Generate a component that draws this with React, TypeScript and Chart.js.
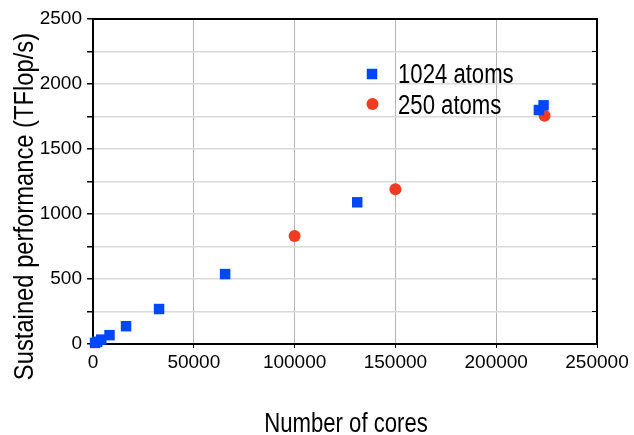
import React, { useEffect, useRef } from 'react';
import { Chart, registerables } from 'chart.js';

Chart.register(...registerables);

// ---- data ----
const cores1024 = [1024, 2048, 4096, 8192, 16384, 32768, 65536, 131072, 221184, 223500];
const perf1024 = [8.5, 17, 34, 68, 137, 269, 538, 1090, 1800, 1836];
const cores250 = [100000, 150000, 224000];
const perf250 = [831, 1190, 1756];
const seriesLabels = ['1024 atoms', '250 atoms'];
const xTickValues = [0, 50000, 100000, 150000, 200000, 250000];
const yTickValues = [0, 500, 1000, 1500, 2000, 2500];
const xTitle = 'Number of cores';
const yTitle = 'Sustained performance (TFlop/s)';

const BLUE = '#0046fa';
const RED = '#ee3b22';
const TITLE_FONT = '27px "Liberation Sans", Arial, sans-serif';
const TICK_FAMILY = '"Liberation Sans", Arial, Helvetica, sans-serif';
const NARROW = 0.82;

function narrowText(ctx: CanvasRenderingContext2D, text: string, x: number, y: number, sx: number) {
  ctx.save();
  ctx.translate(x, y);
  ctx.scale(sx, 1);
  ctx.fillText(text, 0, 0);
  ctx.restore();
}

const framePlugin = {
  id: 'frame',
  beforeDatasetsDraw(chart: any) {
    const { ctx, chartArea: a, scales } = chart;
    ctx.save();
    ctx.strokeStyle = '#000';
    ctx.lineWidth = 2;
    ctx.beginPath();
    ctx.moveTo(a.left, a.top);
    ctx.lineTo(a.right, a.top);
    ctx.lineTo(a.right, a.bottom);
    ctx.stroke();
    ctx.lineWidth = 1;
    const y = scales.y;
    y.ticks.forEach((t: any) => {
      const py = y.getPixelForValue(t.value);
      ctx.beginPath();
      ctx.moveTo(a.right - 5, py);
      ctx.lineTo(a.right, py);
      ctx.stroke();
    });
    ctx.restore();
  },
  afterDraw(chart: any) {
    const { ctx, chartArea: a } = chart;
    ctx.save();
    ctx.fillStyle = '#000';
    ctx.font = TITLE_FONT;
    ctx.textBaseline = 'alphabetic';
    // x title
    ctx.textAlign = 'center';
    narrowText(ctx, xTitle, (a.left + a.right) / 2 + 1, 432, NARROW);
    // y title
    ctx.save();
    ctx.translate(33, (a.top + a.bottom) / 2 + 25);
    ctx.rotate(-Math.PI / 2);
    narrowText(ctx, yTitle, 0, 0, 0.88);
    ctx.restore();
    // legend
    const lx = a.left + 279;
    const ly1 = a.top + 55;
    const ly2 = a.top + 85;
    ctx.fillStyle = BLUE;
    ctx.fillRect(lx - 5.25, ly1 - 5.25, 10.5, 10.5);
    ctx.fillStyle = RED;
    ctx.beginPath();
    ctx.arc(lx + 0.5, ly2, 6, 0, Math.PI * 2);
    ctx.fill();
    ctx.fillStyle = '#000';
    ctx.textAlign = 'left';
    narrowText(ctx, seriesLabels[0], lx + 26, ly1 + 9, NARROW);
    narrowText(ctx, seriesLabels[1], lx + 26, ly2 + 9.5, NARROW);
    ctx.restore();
  },
};

export default function App() {
  const ref = useRef<HTMLCanvasElement>(null);
  useEffect(() => {
    if (!ref.current) return;
    const chart = new Chart(ref.current, {
      type: 'scatter',
      data: {
        datasets: [
          {
            label: seriesLabels[0],
            data: cores1024.map((x, i) => ({ x, y: perf1024[i] })),
            pointStyle: 'rect',
            pointRadius: 7.4,
            pointBackgroundColor: BLUE,
            pointBorderWidth: 0,
            borderColor: BLUE,
            clip: false as any,
          },
          {
            label: seriesLabels[1],
            data: cores250.map((x, i) => ({ x, y: perf250[i] })),
            pointStyle: 'circle',
            pointRadius: 6,
            pointBackgroundColor: RED,
            pointBorderWidth: 0,
            borderColor: RED,
            clip: false as any,
          },
        ],
      },
      options: {
        responsive: false,
        animation: false,
        layout: { padding: { top: 19, right: 37, left: 0, bottom: 0 } },
        plugins: { legend: { display: false }, tooltip: { enabled: false } },
        scales: {
          x: {
            type: 'linear',
            min: xTickValues[0],
            max: xTickValues[xTickValues.length - 1],
            afterFit: (s: any) => { s.height = 91; },
            afterBuildTicks: (s: any) => { s.ticks = xTickValues.map((v) => ({ value: v })); },
            ticks: {
              color: '#000',
              font: { family: TICK_FAMILY, size: 19 },
              padding: 3,
              maxRotation: 0,
              callback: (v: any) => String(v),
            },
            grid: { color: '#b4b4b4', lineWidth: 1, tickLength: 4, tickColor: '#000' },
            border: { display: true, color: '#000', width: 2 },
          },
          y: {
            type: 'linear',
            min: yTickValues[0],
            max: yTickValues[yTickValues.length - 1],
            afterFit: (s: any) => { s.width = 93; },
            ticks: {
              stepSize: 250,
              color: '#000',
              font: { family: TICK_FAMILY, size: 19 },
              padding: 5,
              callback: (v: any) => (yTickValues.includes(Number(v)) ? String(v) : ''),
            },
            grid: { color: '#dadada', lineWidth: 1.5, tickLength: 6, tickColor: '#000' },
            border: { display: true, color: '#000', width: 2 },
          },
        },
      },
      plugins: [framePlugin],
    });
    return () => chart.destroy();
  }, []);
  return (
    <div style={{ position: 'fixed', left: 0, top: 0, width: 634, height: 435, background: '#fff' }}>
      <canvas ref={ref} width={634} height={435} style={{ display: 'block' }} />
    </div>
  );
}
